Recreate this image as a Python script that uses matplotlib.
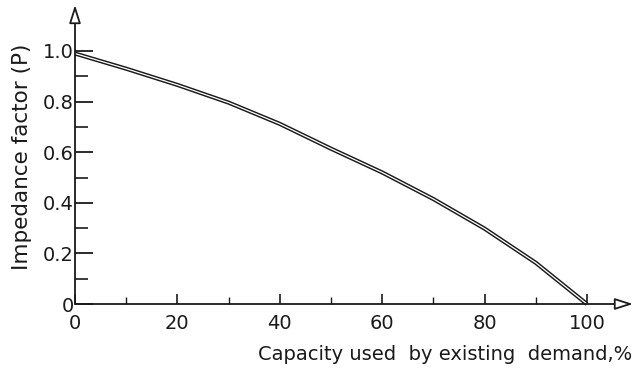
import matplotlib
matplotlib.use("Agg")
import matplotlib.pyplot as plt
import numpy as np

# values
capacity = [0, 10, 20, 30, 40, 50, 60, 70, 80, 90, 100]
impedance = [0.99, 0.93, 0.866, 0.796, 0.712, 0.614, 0.52, 0.415, 0.298, 0.163, 0.0]

x_ticks = [0, 20, 40, 60, 80, 100]
x_labels = ["0", "20", "40", "60", "80", "100"]
y_ticks = [0, 0.2, 0.4, 0.6, 0.8, 1.0]
y_labels = ["0", "0.2", "0.4", "0.6", "0.8", "1.0"]

plt.rcParams["font.family"] = ["DejaVu Sans"]
ink = "#1a1a1a"

fig = plt.figure(figsize=(6.37, 3.75), dpi=100)
ax = fig.add_axes([75 / 637, 71 / 375, 558 / 637, 299 / 375])
ax.set_xlim(0, 109)
ax.set_ylim(0, 299 / 253)

for s in ax.spines.values():
    s.set_visible(False)

# axes drawn as arrows with hollow heads
arrow = dict(arrowstyle="-|>,head_length=1.1,head_width=0.35", fc="white",
             ec=ink, lw=1.3, shrinkA=0, shrinkB=0)
ax.annotate("", xy=(109, 0), xytext=(0, 0), arrowprops=arrow, annotation_clip=False)
ax.annotate("", xy=(0, 299 / 253), xytext=(0, 0), arrowprops=arrow, annotation_clip=False)

# double-stroke curve like the pen drawing
ax.plot(capacity, impedance, color=ink, lw=3.0, solid_capstyle="butt",
        solid_joinstyle="round", clip_on=False)
ax.plot(capacity, impedance, color="white", lw=0.9, solid_capstyle="butt",
        solid_joinstyle="round", clip_on=False)

ax.set_xticks(x_ticks)
ax.set_xticklabels(x_labels)
ax.set_xticks([10, 30, 50, 70, 90], minor=True)
ax.set_yticks(y_ticks)
ax.set_yticklabels(y_labels)
ax.set_yticks([0.1, 0.3, 0.5, 0.7, 0.9], minor=True)

ax.tick_params(axis="x", which="major", direction="in", length=7, width=1.2,
               color=ink, labelsize=14, pad=7, labelcolor=ink)
ax.tick_params(axis="x", which="minor", direction="in", length=5, width=1.0, color=ink)
ax.tick_params(axis="y", which="major", direction="in", length=13, width=1.3,
               color=ink, labelsize=14, pad=1, labelcolor=ink)
ax.tick_params(axis="y", which="minor", direction="in", length=9, width=1.2, color=ink)

fig.text(632 / 637, 1 - 355 / 375, "Capacity used  by existing  demand,%",
         ha="right", va="center", fontsize=14, color=ink)
fig.text(22 / 637, 1 - 157 / 375, "Impedance factor (P)", rotation=90,
         ha="center", va="center", fontsize=15.5, color=ink)

fig.savefig("out.png", dpi=100)
